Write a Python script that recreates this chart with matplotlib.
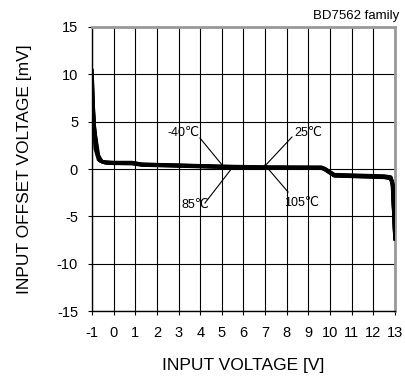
import matplotlib
matplotlib.use("Agg")
import matplotlib.pyplot as plt
import numpy as np

plt.rcParams['font.family'] = ['Liberation Sans', 'DejaVu Sans']
plt.rcParams['axes.unicode_minus'] = False

# Input offset voltage vs input voltage, four temperatures
vin_m40 = [-1.0, -0.95, -0.85, -0.7, -0.5, 0.0, 0.85, 1.3, 3.0, 5.0, 7.0, 9.6, 9.75, 10.2, 12.5, 12.8, 12.88, 13.0]
vio_m40 = [10.4, 6.0, 2.2, 1.0, 0.75, 0.68, 0.68, 0.5, 0.4, 0.28, 0.2, 0.18, 0.05, -0.6, -0.75, -0.85, -1.4, -7.0]

vin_25 = [-1.0, -0.92, -0.8, -0.65, -0.45, 0.0, 0.85, 1.3, 3.0, 5.0, 7.0, 9.6, 9.75, 10.2, 12.5, 12.8, 12.88, 13.0]
vio_25 = [10.0, 5.0, 2.0, 0.9, 0.7, 0.65, 0.65, 0.48, 0.38, 0.25, 0.17, 0.15, 0.02, -0.65, -0.8, -0.9, -1.5, -7.2]

vin_85 = [-1.0, -0.9, -0.75, -0.6, -0.4, 0.0, 0.85, 1.3, 3.0, 5.0, 7.0, 9.6, 9.75, 10.2, 12.5, 12.8, 12.9, 13.0]
vio_85 = [9.0, 4.5, 1.6, 0.85, 0.68, 0.62, 0.6, 0.45, 0.35, 0.22, 0.14, 0.12, -0.02, -0.7, -0.85, -0.95, -1.6, -7.3]

vin_105 = [-1.0, -0.88, -0.7, -0.55, -0.35, 0.0, 0.85, 1.3, 3.0, 5.0, 7.0, 9.6, 9.75, 10.2, 12.5, 12.8, 12.9, 13.0]
vio_105 = [8.0, 4.0, 1.4, 0.8, 0.65, 0.6, 0.58, 0.42, 0.32, 0.2, 0.12, 0.1, -0.05, -0.72, -0.88, -1.0, -1.8, -7.4]

series = [(vin_m40, vio_m40), (vin_25, vio_25), (vin_85, vio_85), (vin_105, vio_105)]

x_ticks = list(range(-1, 14))
y_ticks = [-15, -10, -5, 0, 5, 10, 15]

# Temperature labels: (text, text x, text y, leader start, leader end)
temp_labels = [
    ("-40\u2103", 3.25, 3.8, (3.99, 3.27), (5.05, 0.32)),
    ("25\u2103", 8.98, 3.8, (8.24, 3.38), (6.99, 0.32)),
    ("85\u2103", 3.76, -3.8, (4.22, -3.59), (5.47, 0.1)),
    ("105\u2103", 8.66, -3.6, (8.06, -2.43), (6.99, 0.42)),
]

fig = plt.figure(figsize=(4.06, 3.78), dpi=100)
ax = fig.add_axes([0.2266, 0.1772, 0.9729 - 0.2266, 0.9286 - 0.1772])

for vx, vy in series:
    ax.plot(vx, vy, color='black', lw=2.6, solid_joinstyle='round', zorder=3)

ax.set_xlim(-1, 13)
ax.set_ylim(-15, 15)
ax.set_xticks(x_ticks)
ax.set_yticks(y_ticks)
ax.grid(True, color='black', lw=0.8, zorder=1)
ax.set_axisbelow(True)

for side in ('left', 'bottom'):
    ax.spines[side].set_color('black')
    ax.spines[side].set_linewidth(1.0)
for side in ('top', 'right'):
    ax.spines[side].set_color('#999999')
    ax.spines[side].set_linewidth(2.0)

ax.tick_params(direction='out', length=3, width=0.8, labelsize=10.5, colors='black')
ax.tick_params(axis='y', pad=7)
ax.tick_params(axis='x', pad=8)

ax.set_xlabel('INPUT VOLTAGE [V]', fontsize=12.5, labelpad=13)
ax.set_ylabel('INPUT OFFSET VOLTAGE [mV]', fontsize=12.5, labelpad=18)

for txt, tx, ty, p0, p1 in temp_labels:
    ax.text(tx, ty, txt, fontsize=9, ha='center', va='center', zorder=4)
    ax.plot([p0[0], p1[0]], [p0[1], p1[1]], color='black', lw=0.8, zorder=4)

fig.text(0.983, 0.958, 'BD7562 family', fontsize=9.5, ha='right', va='center')

fig.savefig('out.png', dpi=100)
